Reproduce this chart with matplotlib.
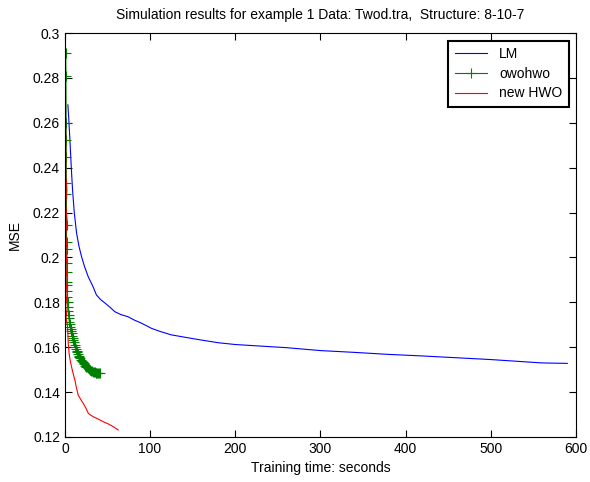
import matplotlib
matplotlib.use("Agg")
import matplotlib.pyplot as plt

plt.rcParams['font.family'] = ['Liberation Sans', 'DejaVu Sans']

# LM series
lm_t = [3.5, 4.5, 5.9, 7.5, 9.0, 11.0, 13.7, 16.5, 19.6, 23.0, 27.4, 33.0, 37.0, 42.0, 47.0,
        53.0, 58.7, 66.0, 74.0, 82.0, 90.0, 101.7, 112.0, 125.0, 140.0, 160.0, 180.0, 200.0,
        230.0, 260.0, 300.0, 340.0, 380.0, 420.0, 460.0, 500.0, 540.0, 560.0, 590.0]
lm_mse = [0.268, 0.262, 0.2523, 0.240, 0.230, 0.220, 0.2109, 0.205, 0.2003, 0.196, 0.1914,
          0.187, 0.1833, 0.1812, 0.1797, 0.1778, 0.1758, 0.1745, 0.1736, 0.1720, 0.1707, 0.1684,
          0.1670, 0.1655, 0.1645, 0.1632, 0.1620, 0.1612, 0.1605, 0.1598, 0.1585, 0.1577,
          0.1568, 0.1561, 0.1553, 0.1545, 0.1535, 0.1530, 0.1528]

# owohwo series
ow_t = [1.0, 1.2, 1.4, 1.5, 1.6, 1.7, 1.8, 1.9, 2.0, 2.1, 2.2, 2.3, 2.4, 2.5, 2.7, 3.0, 3.3,
        3.6, 4.0, 4.4, 4.8, 5.3, 5.8, 6.3, 6.9, 7.5, 8.1, 8.7, 9.3, 10.0, 10.7, 11.4, 12.1,
        12.9, 13.7, 14.5, 15.3, 16.2, 17.1, 18.0, 19.0, 20.0, 21.0, 22.0, 23.0, 24.0, 25.0,
        26.0, 27.0, 28.0, 29.0, 30.0, 31.0, 32.0, 33.0, 34.0, 35.0, 36.0, 37.0, 38.0, 39.0,
        40.0, 41.0]
ow_mse = [0.291, 0.2808, 0.2598, 0.2523, 0.2449, 0.2330, 0.2283, 0.2145, 0.2070, 0.2036,
          0.1977, 0.1937, 0.1892, 0.1877, 0.1850, 0.1825, 0.1800, 0.1780, 0.1760, 0.1742,
          0.1728, 0.1714, 0.1702, 0.1692, 0.1682, 0.1672, 0.1662, 0.1652, 0.1642, 0.1632,
          0.1622, 0.1610, 0.1600, 0.1592, 0.1584, 0.1577, 0.1570, 0.1563, 0.1556, 0.1550,
          0.1544, 0.1538, 0.1533, 0.1528, 0.1523, 0.1518, 0.1514, 0.1510, 0.1506, 0.1503,
          0.1500, 0.1497, 0.1494, 0.1492, 0.1490, 0.1489, 0.1488, 0.1487, 0.1486, 0.1485,
          0.1484, 0.1484, 0.1483]

# new HWO series
hwo_t = [0.5, 0.8, 1.0, 2.4, 0.9, 2.5, 1.0, 2.6, 1.1, 2.7, 1.2, 2.8, 1.3, 2.9, 3.2, 3.5, 3.9,
         5.0, 6.5, 7.8, 9.5, 11.7, 13.5, 15.6, 18.5, 21.5, 24.5, 27.4, 30.0, 33.0, 39.0, 45.0,
         51.0, 56.7, 60.0, 62.6]
hwo_mse = [0.2925, 0.2600, 0.2360, 0.2300, 0.2240, 0.2170, 0.2100, 0.2030, 0.1960, 0.1900,
           0.1840, 0.1780, 0.1730, 0.1700, 0.1680, 0.1660, 0.1620, 0.1570, 0.1535, 0.1513,
           0.1485, 0.1454, 0.1420, 0.1387, 0.1368, 0.1350, 0.1330, 0.1306, 0.1298, 0.1291,
           0.1280, 0.1268, 0.1258, 0.1246, 0.1238, 0.1231]

fig = plt.figure(figsize=(5.9, 4.82), dpi=100)
ax = fig.add_axes([0.110, 0.0934, 0.866, 0.8381])

ax.plot(lm_t, lm_mse, color='blue', lw=0.8, label='LM')
ax.plot(ow_t, ow_mse, color='green', lw=0.8, marker='+', markersize=6.5, markeredgewidth=0.8,
        label='owohwo')
ax.plot(hwo_t, hwo_mse, color='red', lw=0.8, label='new HWO')

ax.set_xlim(0, 600)
ax.set_ylim(0.12, 0.3)
ax.set_xticks([0, 100, 200, 300, 400, 500, 600])
ax.set_yticks([0.12, 0.14, 0.16, 0.18, 0.2, 0.22, 0.24, 0.26, 0.28, 0.3])
ax.set_yticklabels(['0.12', '0.14', '0.16', '0.18', '0.2', '0.22', '0.24', '0.26', '0.28', '0.3'])
ax.tick_params(direction='in', top=True, right=True, labelsize=10, length=5, width=0.8)
for s in ax.spines.values():
    s.set_linewidth(0.8)

ax.set_xlabel('Training time: seconds', fontsize=10, labelpad=4)
ax.set_ylabel('MSE', fontsize=10, labelpad=8)
ax.set_title('Simulation results for example 1 Data: Twod.tra,  Structure: 8-10-7', fontsize=10, pad=10)

leg = ax.legend(loc='upper right', fontsize=10, fancybox=False, framealpha=1,
                edgecolor='black', handlelength=2.3, handletextpad=0.9, borderpad=0.45,
                labelspacing=0.4, borderaxespad=0, bbox_to_anchor=(0.986, 0.980))
leg.get_frame().set_linewidth(1.5)

fig.savefig('out.png', dpi=100)
